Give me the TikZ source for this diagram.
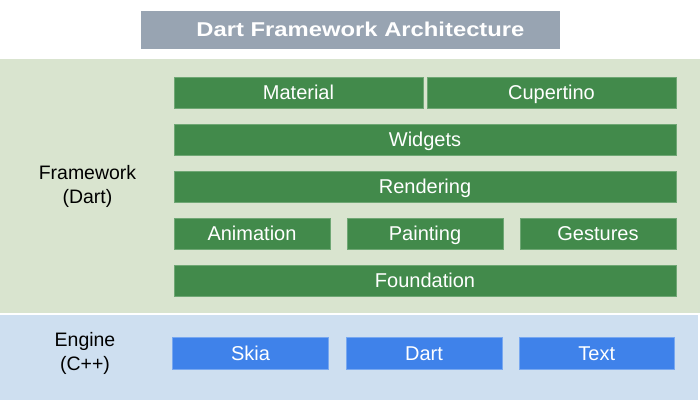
\documentclass[tikz,border=0pt]{standalone}
\usepackage{fontspec}
\usepackage{graphicx}
\setmainfont{Liberation Sans}
\definecolor{titlebg}{HTML}{98A4B2}
\definecolor{fwbg}{HTML}{D9E4CF}
\definecolor{engbg}{HTML}{CEDFF0}
\definecolor{gbox}{HTML}{428A4B}
\definecolor{gedge}{HTML}{6FA774}
\definecolor{bbox}{HTML}{3F82EA}
\definecolor{bedge}{HTML}{78A8F0}
\tikzset{
  blocktext/.style={text=white, font=\fontsize{15}{18}\selectfont, inner sep=0pt, text height=10.7pt, text depth=0pt},
  gblock/.style={draw=gedge, line width=0.6pt, fill=gbox},
  bblock/.style={draw=bedge, line width=0.6pt, fill=bbox},
  sidelabel/.style={align=center, font=\fontsize{14.6}{18}\selectfont, text=black},
}
\begin{document}
\begin{tikzpicture}[x=0.75pt,y=-0.75pt]
\useasboundingbox (0,0) rectangle (700,400);
\fill[white] (0,0) rectangle (700,400);
% panels
\fill[fwbg] (0,59) rectangle (700,313.3);
\fill[engbg] (0,314.6) rectangle (698,400);
% title
\node[fill=titlebg, minimum width=419*0.75pt, minimum height=38*0.75pt, inner sep=0pt] (title) at (350.5,30) {};
\node[text=white, inner sep=0pt, text height=10.7pt, text depth=0pt,
      font=\bfseries\fontsize{15}{18}\selectfont] (titletext) at (360.5,29.5) {\scalebox{1.19}[1]{Dart Framework Architecture}};
% framework boxes
\path[gblock] (174,77) rectangle (423,108) node[midway,blocktext] (material) {Material};
\path[gblock] (427,77) rectangle (676,108) node[midway,blocktext] (cupertino) {Cupertino};
\path[gblock] (174,124) rectangle (676,155) node[midway,blocktext] (widgets) {Widgets};
\path[gblock] (174,171) rectangle (676,202) node[midway,blocktext] (rendering) {Rendering};
\path[gblock] (174,218) rectangle (330,249) node[midway,blocktext] (animation) {Animation};
\path[gblock] (347,218) rectangle (503,249) node[midway,blocktext] (painting) {Painting};
\path[gblock] (520,218) rectangle (676,249) node[midway,blocktext] (gestures) {Gestures};
\path[gblock] (174,265) rectangle (676,296.5) node[midway,blocktext] (foundation) {Foundation};
% engine boxes
\path[bblock] (172.5,337) rectangle (328.5,369) node[midway,blocktext] (skia) {Skia};
\path[bblock] (346,337) rectangle (502,369) node[midway,blocktext] (dart) {Dart};
\path[bblock] (519,337) rectangle (674.5,369) node[midway,blocktext] (text) {Text};
% side labels
\node[sidelabel] (fwlabel) at (87.5,186) {Framework\\(Dart)};
\node[sidelabel] (englabel) at (85,353) {Engine\\(C++)};
\end{tikzpicture}
\end{document}
